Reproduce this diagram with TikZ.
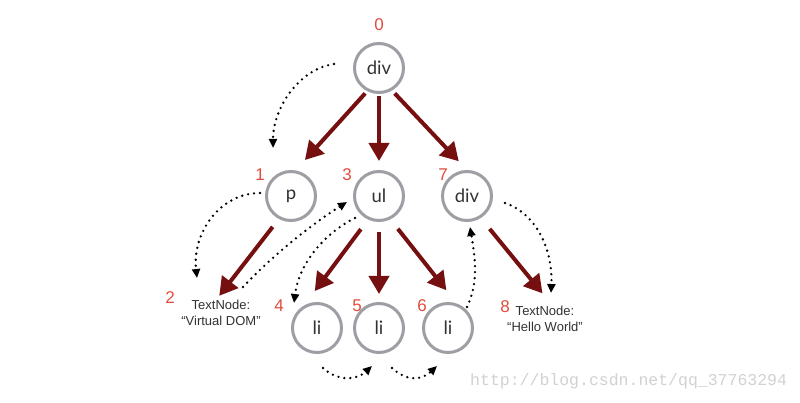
\documentclass[tikz,border=0pt]{standalone}
\usepackage{fontspec}
\setmainfont{Liberation Sans}
\newfontfamily\nodefont{Lato}
\newfontfamily\wmfont{Liberation Mono}
\usetikzlibrary{arrows.meta}
\definecolor{ringgray}{RGB}{158,158,164}
\definecolor{treered}{RGB}{118,16,16}
\definecolor{numred}{RGB}{226,76,60}
\definecolor{txtgray}{RGB}{50,50,50}
\definecolor{wmgray}{RGB}{210,210,210}
\begin{document}
\begin{tikzpicture}[x=1pt,y=-1pt,
  vnode/.style={circle,draw=ringgray,line width=3pt,fill=white,minimum size=49pt,inner sep=0pt,
    font=\nodefont\fontsize{18.5}{18.5}\selectfont,text=txtgray},
  idx/.style={text=numred,font=\fontsize{17}{17}\selectfont,inner sep=0pt},
  tnode/.style={align=center,text=txtgray,font=\fontsize{13}{16.5}\selectfont,inner sep=0pt},
  edge/.style={draw=treered,line width=4pt,-{Triangle[length=18pt,width=20pt]}},
  walk/.style={draw=black,line width=2.6pt,dash pattern=on 0pt off 6pt,line cap=round,
    -{Triangle[length=9pt,width=8pt]}}]
\fill[white] (0,0) rectangle (800,403);
\useasboundingbox (0,0) rectangle (800,403);

% tree nodes
\node[vnode] (div0) at (379,68) {div};
\node[vnode] (p1) at (291,196) {p};
\node[vnode] (ul3) at (379,196) {ul};
\node[vnode] (div7) at (467,196) {div};
\node[vnode] (li4) at (317,328) {li};
\node[vnode] (li5) at (379,328) {li};
\node[vnode] (li6) at (448,328) {li};
\node[tnode] (t2) at (221,313) {TextNode:\\“Virtual DOM”};
\node[tnode] (t8) at (545,319) {TextNode:\\“Hello World”};

% index labels
\node[idx] (n0) at (379,25) {0};
\node[idx] (n1) at (260,175) {1};
\node[idx] (n2) at (170,298) {2};
\node[idx] (n3) at (347,175) {3};
\node[idx] (n4) at (279,306) {4};
\node[idx] (n5) at (357,306) {5};
\node[idx] (n6) at (422,306) {6};
\node[idx] (n7) at (443,175) {7};
\node[idx] (n8) at (505,307) {8};

% tree edges
\draw[edge,shorten <=3pt,shorten >=14pt] (div0.243) -- (p1.80);
\draw[edge,shorten <=2pt,shorten >=9pt] (div0.south) -- (ul3.north);
\draw[edge,shorten <=4pt,shorten >=12pt] (div0.300) -- (div7.north);
\draw[edge,shorten <=10pt,shorten >=5pt] (p1.242) -- (t2.110);
\draw[edge,shorten <=12pt,shorten >=18pt] (ul3.245) -- (li4.120);
\draw[edge,shorten <=10pt,shorten >=8pt] (ul3.south) -- (li5.north);
\draw[edge,shorten <=12pt,shorten >=17pt] (ul3.296) -- (li6.70);
\draw[edge,shorten <=14pt,shorten >=16pt] (div7.302) -- (t8.60);

% traversal order (dotted)
\coordinate (w0s) at (334,64);  \coordinate (w0e) at (273,148);
\coordinate (w1s) at (260,193); \coordinate (w1e) at (197,278);
\coordinate (w2s) at (243,287); \coordinate (w2e) at (347,202);
\coordinate (w3s) at (355,218); \coordinate (w3e) at (294,303);
\coordinate (w4s) at (323,368); \coordinate (w4e) at (372,366);
\coordinate (w5s) at (392,368); \coordinate (w5e) at (437,366);
\coordinate (w6s) at (467,307); \coordinate (w6e) at (470,227);
\coordinate (w7s) at (505,203); \coordinate (w7e) at (551,293);

\draw[walk] (w0s) .. controls +(-35,5) and +(0,-40) .. (w0e);
\draw[walk] (w1s) .. controls +(-40,0) and +(-5,-45) .. (w1e);
\draw[walk] (w2s) .. controls +(30,-32) and +(-35,22) .. (w2e);
\draw[walk] (w3s) .. controls +(-30,15) and +(5,-40) .. (w3e);
\draw[walk] (w4s) .. controls +(15,14) and +(-15,14) .. (w4e);
\draw[walk] (w5s) .. controls +(15,14) and +(-15,14) .. (w5e);
\draw[walk] (w6s) .. controls +(12,-25) and +(5,30) .. (w6e);
\draw[walk] (w7s) .. controls +(30,10) and +(2,-45) .. (w7e);

% watermark
\node[anchor=west,text=wmgray,font=\wmfont\fontsize{16.5}{16.5}\selectfont,inner sep=0pt] (wm) at (470,381) {http://blog.csdn.net/qq\_37763294};
\end{tikzpicture}
\end{document}
